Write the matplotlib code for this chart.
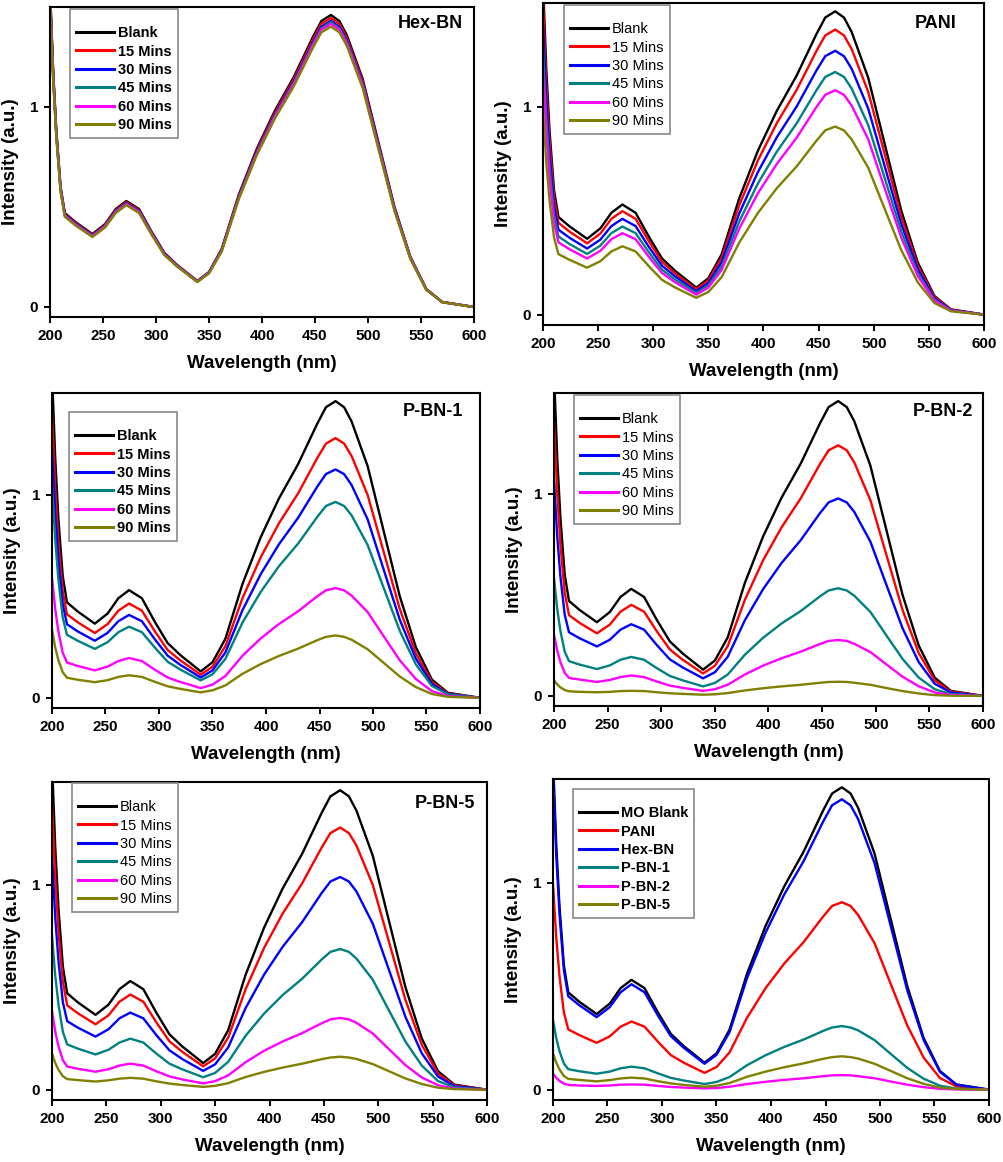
import matplotlib
matplotlib.use("Agg")
import matplotlib.pyplot as plt

plt.rcParams['font.family'] = ['Liberation Sans', 'DejaVu Sans']

# wavelength grid (nm) the spectra were read at
wl = [200, 203, 206, 210, 214, 224, 240, 252, 262, 272, 284, 296, 308, 320, 339, 350, 362,
      378, 395, 412, 430, 448, 456, 465, 473, 480, 495, 510, 525, 540, 555, 570, 600]

# methyl orange blank
blank = [1.60, 1.18, 0.88, 0.60, 0.47, 0.425, 0.365, 0.415, 0.49, 0.53, 0.49, 0.375, 0.27, 0.21, 0.13, 0.175, 0.29,
         0.56, 0.79, 0.98, 1.15, 1.35, 1.43, 1.46, 1.43, 1.36, 1.14, 0.82, 0.50, 0.25, 0.09, 0.025, 0.0]

# Hex-BN
hex_15 = [1.584, 1.168, 0.871, 0.594, 0.465, 0.421, 0.361, 0.411, 0.485, 0.525, 0.485, 0.371, 0.267, 0.208, 0.129, 0.173, 0.287,
          0.554, 0.782, 0.970, 1.139, 1.337, 1.416, 1.445, 1.416, 1.346, 1.129, 0.812, 0.495, 0.248, 0.089, 0.025, 0.0]
hex_30 = [1.568, 1.156, 0.862, 0.588, 0.461, 0.417, 0.358, 0.407, 0.480, 0.519, 0.480, 0.368, 0.265, 0.206, 0.127, 0.172, 0.284,
          0.549, 0.774, 0.960, 1.127, 1.323, 1.401, 1.431, 1.401, 1.333, 1.117, 0.804, 0.490, 0.245, 0.088, 0.025, 0.0]
hex_45 = [1.560, 1.151, 0.858, 0.585, 0.458, 0.414, 0.356, 0.405, 0.478, 0.517, 0.478, 0.366, 0.263, 0.205, 0.127, 0.171, 0.283,
          0.546, 0.770, 0.956, 1.121, 1.316, 1.394, 1.424, 1.394, 1.326, 1.112, 0.800, 0.488, 0.244, 0.088, 0.024, 0.0]
hex_60 = [1.552, 1.145, 0.854, 0.582, 0.456, 0.412, 0.354, 0.403, 0.475, 0.514, 0.475, 0.364, 0.262, 0.204, 0.126, 0.170, 0.281,
          0.543, 0.766, 0.951, 1.116, 1.310, 1.387, 1.416, 1.387, 1.319, 1.106, 0.795, 0.485, 0.243, 0.087, 0.024, 0.0]
hex_90 = [1.536, 1.133, 0.845, 0.576, 0.451, 0.408, 0.350, 0.398, 0.470, 0.509, 0.470, 0.360, 0.259, 0.202, 0.125, 0.168, 0.278,
          0.538, 0.758, 0.941, 1.104, 1.296, 1.373, 1.402, 1.373, 1.306, 1.094, 0.787, 0.480, 0.240, 0.086, 0.024, 0.0]

# PANI
pani_15 = [1.504, 1.109, 0.827, 0.564, 0.442, 0.400, 0.343, 0.390, 0.461, 0.498, 0.461, 0.353, 0.254, 0.197, 0.122, 0.165, 0.273,
           0.526, 0.743, 0.921, 1.081, 1.269, 1.344, 1.372, 1.344, 1.278, 1.072, 0.771, 0.470, 0.235, 0.085, 0.024, 0.0]
pani_30 = [1.392, 1.027, 0.766, 0.522, 0.409, 0.370, 0.318, 0.361, 0.426, 0.461, 0.426, 0.326, 0.235, 0.183, 0.113, 0.152, 0.252,
           0.487, 0.687, 0.853, 1.001, 1.175, 1.244, 1.270, 1.244, 1.183, 0.992, 0.713, 0.435, 0.218, 0.078, 0.022, 0.0]
pani_45 = [1.280, 0.944, 0.704, 0.480, 0.376, 0.340, 0.292, 0.332, 0.392, 0.424, 0.392, 0.300, 0.216, 0.168, 0.104, 0.140, 0.232,
           0.448, 0.632, 0.784, 0.920, 1.080, 1.144, 1.168, 1.144, 1.088, 0.912, 0.656, 0.400, 0.200, 0.072, 0.020, 0.0]
pani_60 = [1.184, 0.873, 0.651, 0.444, 0.348, 0.315, 0.270, 0.307, 0.363, 0.392, 0.363, 0.278, 0.200, 0.155, 0.096, 0.130, 0.215,
           0.414, 0.585, 0.725, 0.851, 0.999, 1.058, 1.080, 1.058, 1.006, 0.844, 0.607, 0.370, 0.185, 0.067, 0.019, 0.0]
pani_90 = [0.992, 0.732, 0.546, 0.372, 0.291, 0.264, 0.226, 0.257, 0.304, 0.329, 0.304, 0.233, 0.167, 0.130, 0.081, 0.109, 0.180,
           0.347, 0.490, 0.608, 0.713, 0.837, 0.887, 0.905, 0.887, 0.843, 0.707, 0.508, 0.310, 0.155, 0.056, 0.016, 0.0]

# P-BN-1
pbn1_15 = [1.400, 1.033, 0.770, 0.525, 0.411, 0.372, 0.319, 0.363, 0.429, 0.464, 0.429, 0.328, 0.236, 0.184, 0.114, 0.153, 0.254,
           0.490, 0.691, 0.858, 1.006, 1.181, 1.251, 1.278, 1.251, 1.190, 0.998, 0.718, 0.438, 0.219, 0.079, 0.022, 0.0]
pbn1_30 = [1.232, 0.909, 0.678, 0.462, 0.362, 0.327, 0.281, 0.320, 0.377, 0.408, 0.377, 0.289, 0.208, 0.162, 0.100, 0.135, 0.223,
           0.431, 0.608, 0.755, 0.886, 1.040, 1.101, 1.124, 1.101, 1.047, 0.878, 0.631, 0.385, 0.193, 0.069, 0.019, 0.0]
pbn1_45 = [1.056, 0.779, 0.581, 0.396, 0.310, 0.281, 0.241, 0.274, 0.323, 0.350, 0.323, 0.248, 0.178, 0.139, 0.086, 0.116, 0.191,
           0.370, 0.521, 0.647, 0.759, 0.891, 0.944, 0.964, 0.944, 0.898, 0.752, 0.541, 0.330, 0.165, 0.059, 0.017, 0.0]
pbn1_60 = [0.592, 0.437, 0.326, 0.222, 0.174, 0.157, 0.135, 0.154, 0.181, 0.196, 0.181, 0.139, 0.100, 0.078, 0.048, 0.065, 0.107,
           0.207, 0.292, 0.363, 0.426, 0.500, 0.529, 0.540, 0.529, 0.503, 0.422, 0.303, 0.185, 0.093, 0.033, 0.009, 0.0]
pbn1_90 = [0.336, 0.248, 0.185, 0.126, 0.099, 0.089, 0.077, 0.087, 0.103, 0.111, 0.103, 0.079, 0.057, 0.044, 0.027, 0.037, 0.061,
           0.118, 0.166, 0.206, 0.242, 0.284, 0.300, 0.307, 0.300, 0.286, 0.239, 0.172, 0.105, 0.053, 0.019, 0.005, 0.0]

# P-BN-2
pbn2_15 = [1.360, 1.003, 0.748, 0.510, 0.400, 0.361, 0.310, 0.353, 0.417, 0.451, 0.417, 0.319, 0.230, 0.179, 0.111, 0.149, 0.247,
           0.476, 0.672, 0.833, 0.978, 1.148, 1.216, 1.241, 1.216, 1.156, 0.969, 0.697, 0.425, 0.213, 0.077, 0.021, 0.0]
pbn2_30 = [1.072, 0.791, 0.590, 0.402, 0.315, 0.285, 0.245, 0.278, 0.328, 0.355, 0.328, 0.251, 0.181, 0.141, 0.087, 0.117, 0.194,
           0.375, 0.529, 0.657, 0.771, 0.905, 0.958, 0.978, 0.958, 0.911, 0.764, 0.549, 0.335, 0.168, 0.060, 0.017, 0.0]
pbn2_45 = [0.584, 0.431, 0.321, 0.219, 0.172, 0.155, 0.133, 0.151, 0.179, 0.193, 0.179, 0.137, 0.099, 0.077, 0.047, 0.064, 0.106,
           0.204, 0.288, 0.358, 0.420, 0.493, 0.522, 0.533, 0.522, 0.496, 0.416, 0.299, 0.183, 0.091, 0.033, 0.009, 0.0]
pbn2_60 = [0.304, 0.224, 0.167, 0.114, 0.089, 0.081, 0.069, 0.079, 0.093, 0.101, 0.093, 0.071, 0.051, 0.040, 0.025, 0.033, 0.055,
           0.106, 0.150, 0.186, 0.219, 0.257, 0.272, 0.277, 0.272, 0.258, 0.217, 0.156, 0.095, 0.048, 0.017, 0.005, 0.0]
pbn2_90 = [0.077, 0.057, 0.042, 0.029, 0.023, 0.020, 0.018, 0.020, 0.024, 0.025, 0.024, 0.018, 0.013, 0.010, 0.006, 0.008, 0.014,
           0.027, 0.038, 0.047, 0.055, 0.065, 0.069, 0.070, 0.069, 0.065, 0.055, 0.039, 0.024, 0.012, 0.004, 0.001, 0.0]

# P-BN-5
pbn5_15 = [1.400, 1.033, 0.770, 0.525, 0.411, 0.372, 0.319, 0.363, 0.429, 0.464, 0.429, 0.328, 0.236, 0.184, 0.114, 0.153, 0.254,
           0.490, 0.691, 0.858, 1.006, 1.181, 1.251, 1.278, 1.251, 1.190, 0.998, 0.718, 0.438, 0.219, 0.079, 0.022, 0.0]
pbn5_30 = [1.136, 0.838, 0.625, 0.426, 0.334, 0.302, 0.259, 0.295, 0.348, 0.376, 0.348, 0.266, 0.192, 0.149, 0.092, 0.124, 0.206,
           0.398, 0.561, 0.696, 0.817, 0.959, 1.015, 1.037, 1.015, 0.966, 0.809, 0.582, 0.355, 0.178, 0.064, 0.018, 0.0]
pbn5_45 = [0.752, 0.555, 0.414, 0.282, 0.221, 0.200, 0.172, 0.195, 0.230, 0.249, 0.230, 0.176, 0.127, 0.099, 0.061, 0.082, 0.136,
           0.263, 0.371, 0.461, 0.541, 0.635, 0.672, 0.686, 0.672, 0.639, 0.536, 0.385, 0.235, 0.118, 0.042, 0.012, 0.0]
pbn5_60 = [0.384, 0.283, 0.211, 0.144, 0.113, 0.102, 0.088, 0.100, 0.118, 0.127, 0.118, 0.090, 0.065, 0.050, 0.031, 0.042, 0.070,
           0.134, 0.190, 0.235, 0.276, 0.324, 0.343, 0.350, 0.343, 0.326, 0.274, 0.197, 0.120, 0.060, 0.022, 0.006, 0.0]
pbn5_90 = [0.176, 0.130, 0.097, 0.066, 0.052, 0.047, 0.040, 0.046, 0.054, 0.058, 0.054, 0.041, 0.030, 0.023, 0.014, 0.019, 0.032,
           0.062, 0.087, 0.108, 0.127, 0.149, 0.157, 0.161, 0.157, 0.150, 0.125, 0.090, 0.055, 0.028, 0.010, 0.003, 0.0]

time_labels = ['Blank', '15 Mins', '30 Mins', '45 Mins', '60 Mins', '90 Mins']
compare_labels = ['MO Blank', 'PANI', 'Hex-BN', 'P-BN-1', 'P-BN-2', 'P-BN-5']
colors = ['black', '#ff0000', '#0000ff', '#008080', '#ff00ff', '#808000']

panels = [
    ('Hex-BN', [blank, hex_15, hex_30, hex_45, hex_60, hex_90], time_labels),
    ('PANI', [blank, pani_15, pani_30, pani_45, pani_60, pani_90], time_labels),
    ('P-BN-1', [blank, pbn1_15, pbn1_30, pbn1_45, pbn1_60, pbn1_90], time_labels),
    ('P-BN-2', [blank, pbn2_15, pbn2_30, pbn2_45, pbn2_60, pbn2_90], time_labels),
    ('P-BN-5', [blank, pbn5_15, pbn5_30, pbn5_45, pbn5_60, pbn5_90], time_labels),
    ('', [blank, pani_90, hex_90, pbn1_90, pbn2_90, pbn5_90], compare_labels),
]

# layout in pixels: left, right, top, bottom of each axes
W, H = 1004, 1162
boxes = [(50, 474, 7, 317), (543, 984, 3, 325),
         (52, 480, 393, 708), (554, 983, 393, 706),
         (52, 487, 782, 1100), (553, 989, 779, 1100)]
leg_off = [(20, 2), (21, 2), (17, 19), (20, 2), (20, 1), (20, 10)]   # legend box from axes top-left
title_off = [(11, 17), (27, 21), (17, 19), (10, 18), (12, 21), (0, 0)]  # sample name from axes top-right
leg_bold = [True, False, True, False, False, True]

fig = plt.figure(figsize=(W / 100, H / 100), dpi=100)

for i, (name, series, labels) in enumerate(panels):
    l, r, t, b = boxes[i]
    aw, ah = r - l, b - t
    ax = fig.add_axes([l / W, 1 - b / H, aw / W, ah / H])
    for vals, lab, c in zip(series, labels, colors):
        ax.plot(wl, vals, color=c, lw=1.7, label=lab)
    ax.set_xlim(200, 600)
    ax.set_ylim(-0.05, 1.5)
    ax.set_xticks(range(200, 601, 50))
    ax.set_yticks([0, 1])
    for s in ax.spines.values():
        s.set_linewidth(1.5)
    ax.tick_params(direction='out', length=4.5, width=1.4, labelsize=11, pad=4)
    for tl in ax.get_xticklabels() + ax.get_yticklabels():
        tl.set_fontweight('bold')
    ax.set_xlabel('Wavelength (nm)', fontsize=13.5, fontweight='bold', labelpad=9)
    ax.set_ylabel('Intensity (a.u.)', fontsize=13.5, fontweight='bold', labelpad=8)
    if name:
        tx, ty = title_off[i]
        ax.text(1 - tx / aw, 1 - ty / ah, name, transform=ax.transAxes, ha='right', va='center',
                fontsize=13, fontweight='bold')
    dx, dy = leg_off[i]
    leg = ax.legend(loc='upper left', bbox_to_anchor=(dx / aw, 1 - dy / ah), borderaxespad=0,
                    fancybox=False, framealpha=1, edgecolor='#888888',
                    handlelength=2.6, handletextpad=0.3, labelspacing=0.3, borderpad=0.4,
                    prop={'weight': 'bold' if leg_bold[i] else 'normal', 'size': 10.5},
                    title=' ', title_fontsize=5)
    leg.get_frame().set_linewidth(1.2)
    for ln in leg.get_lines():
        ln.set_linewidth(2.2)

fig.savefig('out.png', dpi=100)
